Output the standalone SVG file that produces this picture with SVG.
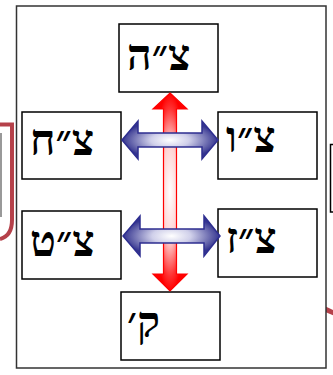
<svg xmlns="http://www.w3.org/2000/svg" width="333" height="375" viewBox="0 0 333 375">
<defs>
<style>
.box{fill:#fff;stroke:#000;stroke-width:1.5}
.lbl{font-family:"Liberation Serif","DejaVu Serif",serif;font-weight:bold;font-size:43px;fill:#000}
.deco{fill:none;stroke:#b5414a;stroke-width:4}
</style>
<radialGradient id="gBlue" cx="0.5" cy="0.5" r="0.5">
<stop offset="0" stop-color="#ffffff"/>
<stop offset="0.4" stop-color="#d0d0ea"/>
<stop offset="1" stop-color="#34348f"/>
</radialGradient>
<radialGradient id="gRed" cx="0.5" cy="0.5" r="0.5">
<stop offset="0" stop-color="#ffffff"/>
<stop offset="0.5" stop-color="#ffd0d0"/>
<stop offset="0.85" stop-color="#ff3030"/>
<stop offset="1" stop-color="#ff0000"/>
</radialGradient>
</defs>
<rect x="0" y="0" width="333" height="375" fill="#fff"/>
<g id="background">
<path class="deco" d="M0,124.5 L12,124.5 L12,220 Q12,236 0,239"/>
<line x1="1" y1="133" x2="1" y2="217" stroke="#999" stroke-width="2"/>
<path d="M334,144.5 L330.5,144.5 L330.5,212 L334,212" fill="none" stroke="#000" stroke-width="1.5"/>
<path d="M325,309 Q329,311 334,313" fill="none" stroke="#b5414a" stroke-width="5"/>
<rect x="16.5" y="6" width="309.5" height="362" fill="#fff" stroke="#333" stroke-width="1.5"/>
</g>
<g id="n-top"><rect class="box" x="119" y="24" width="99" height="68"/><text class="lbl" x="127" y="70">צ״ה</text></g>
<g id="n-left-upper"><rect class="box" x="22" y="112" width="99" height="67"/><text class="lbl" x="30" y="155">צ״ח</text></g>
<g id="n-right-upper"><rect class="box" x="218" y="112" width="99" height="67"/><text class="lbl" x="226" y="152">צ״ו</text></g>
<g id="n-left-lower"><rect class="box" x="22" y="211" width="99" height="68"/><text class="lbl" x="30" y="256">צ״ט</text></g>
<g id="n-right-lower"><rect class="box" x="218" y="209" width="99" height="68"/><text class="lbl" x="226" y="253">צ״ז</text></g>
<g id="n-bottom"><rect class="box" x="121" y="292" width="99" height="68"/><text class="lbl" x="127" y="337">ק׳</text></g>
<g id="connectors">
<path d="M170,93 L187,109 L176.5,109 L176.5,274 L187,274 L170,291 L153,274 L163.5,274 L163.5,109 L153,109 Z" fill="url(#gRed)" stroke="#ff0000" stroke-width="1.2"/>
<path d="M122,140 L138,121 L138,133 L202,133 L202,121 L218,140 L202,159 L202,147 L138,147 L138,159 Z" fill="url(#gBlue)" stroke="#2e2e90" stroke-width="1.5"/>
<path d="M123,236 L140,216 L140,229 L204,229 L204,216 L220,236 L204,256 L204,243 L140,243 L140,256 Z" fill="url(#gBlue)" stroke="#2e2e90" stroke-width="1.5"/>
</g>
</svg>
